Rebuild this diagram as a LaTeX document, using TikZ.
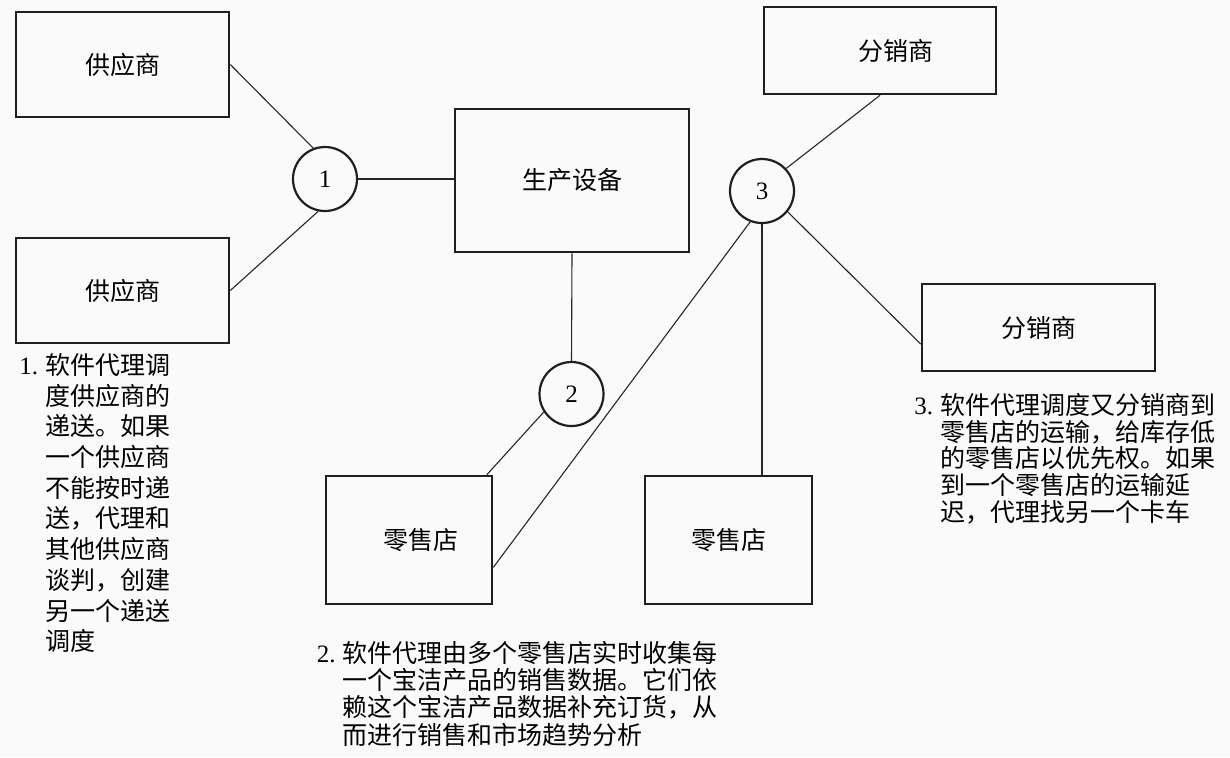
\documentclass[tikz,border=0pt]{standalone}
\usepackage{fontspec}
\setmainfont{Liberation Serif}
\newfontfamily\cjk{Noto Sans CJK SC}
\newcommand{\notenum}[1]{\makebox[13pt][l]{\rmfamily #1.}}
\newcommand{\noteindent}{\hspace*{13pt}}

\begin{document}
\begin{tikzpicture}[x=0.5pt,y=-0.5pt,
	party/.style={draw=black!88,line width=1.3pt,inner sep=0pt,font=\cjk\fontsize{12.5pt}{15pt}\selectfont},
	agent/.style={circle,draw=black!88,line width=1.1pt,minimum size=32pt,inner sep=0pt,font=\fontsize{12.5pt}{15pt}\selectfont},
	link/.style={line width=0.55pt,black!85},
	note/.style={anchor=north west,align=left,inner sep=0pt}]
				\fill[black!2] (0,0) rectangle (1230,757);
				\useasboundingbox (0,0) rectangle (1230,757);
				% suppliers, plant, distributors, shops
				\node[party,minimum width=106.5pt,minimum height=52.5pt] (sup1) at (122.5,64.5) {供应商};
				\node[party,minimum width=106.5pt,minimum height=52.5pt] (sup2) at (122.5,290.5) {供应商};
				\node[party,minimum width=117pt,minimum height=71.5pt] (plant) at (572,180.5) {生产设备};
				\node[party,minimum width=116pt,minimum height=43.5pt] (dist1) at (880,50.5) {\hspace*{16pt}分销商};
				\node[party,minimum width=116.5pt,minimum height=43.5pt] (dist2) at (1038.5,327.5) {分销商};
				\node[party,minimum width=83pt,minimum height=64pt] (shop1) at (409,540) {\hspace*{12pt}零售店};
				\node[party,minimum width=83.5pt,minimum height=64pt] (shop2) at (728.5,540) {零售店};
				% software agents
				\node[agent] (c1) at (325,179) {1};
				\node[agent] (c2) at (571.5,394) {2};
				\node[agent] (c3) at (762,191) {3};
				\draw[link] (sup1.east) -- (c1.111);
				\draw[link] (sup2.east) -- (c1.258);
				\draw[link] (c1) -- (c1 -| plant.west);
				\draw[link] (plant.south) -- (c2.north);
				\draw[link] (c2.213) -- (shop1.40.5);
				\draw[link] (c3.43) -- (dist1.south);
				\draw[link] (c3.-39) -- (dist2.188);
				\draw[link] (c3.south) -- (c3.south |- shop2.north);
				\draw[link] (c3.249) -- (shop1.-18.6);
				% notes
				\node[note,font=\cjk\fontsize{12.5pt}{15.35pt}\selectfont] (note1) at (19,353)
					{\notenum{1}软件代理调\\ \noteindent 度供应商的\\ \noteindent 递送。如果\\ \noteindent 一个供应商\\ \noteindent 不能按时递\\ \noteindent 送，代理和\\ \noteindent 其他供应商\\ \noteindent 谈判，创建\\ \noteindent 另一个递送\\ \noteindent 调度};
				\node[note,font=\cjk\fontsize{12.5pt}{13.6pt}\selectfont] (note2) at (316.5,641)
					{\notenum{2}软件代理由多个零售店实时收集每\\ \noteindent 一个宝洁产品的销售数据。它们依\\ \noteindent 赖这个宝洁产品数据补充订货，从\\ \noteindent 而进行销售和市场趋势分析};
				\node[note,font=\cjk\fontsize{12.5pt}{13.35pt}\selectfont] (note3) at (914,393)
					{\notenum{3}软件代理调度又分销商到\\ \noteindent 零售店的运输，给库存低\\ \noteindent 的零售店以优先权。如果\\ \noteindent 到一个零售店的运输延\\ \noteindent 迟，代理找另一个卡车};
		\end{tikzpicture}
\end{document}
